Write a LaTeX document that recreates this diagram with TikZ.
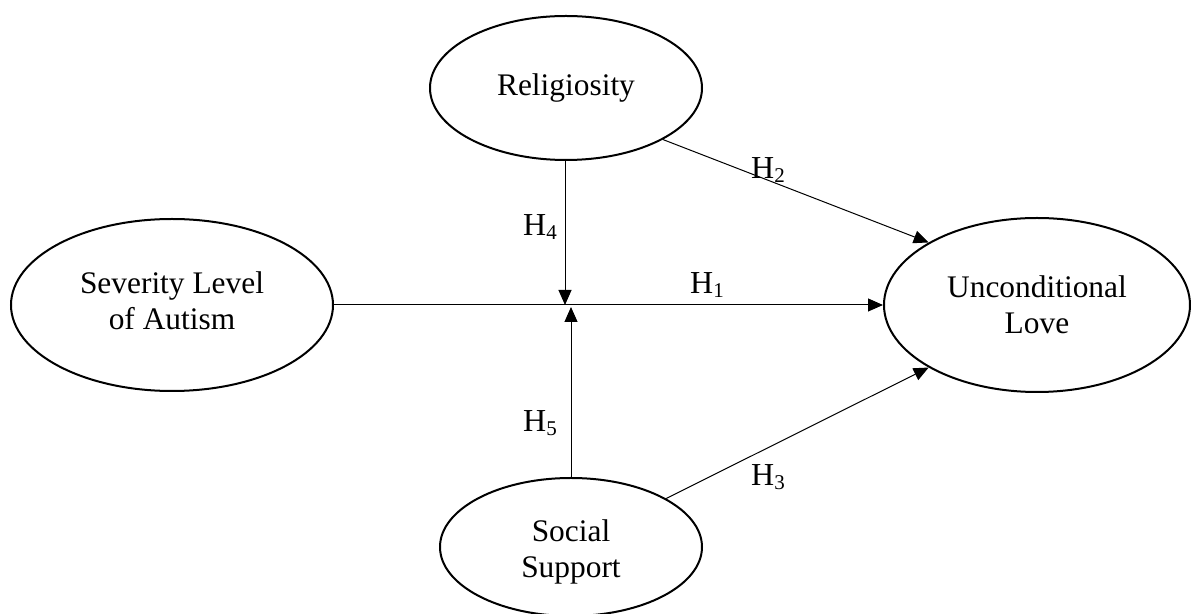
\documentclass[tikz,border=0pt]{standalone}
\usepackage{fontspec}
\setmainfont{Liberation Serif}
\usetikzlibrary{shapes.geometric,arrows.meta}
\newcommand{\Hsub}[1]{H\raisebox{-0.3ex}{\fontsize{10.5}{12}\selectfont #1}}
\begin{document}
\begin{tikzpicture}[x=0.5pt,y=-0.5pt,
  latent/.style={draw, line width=1pt, ellipse, inner sep=0pt, align=center,
    font=\fontsize{15.7}{18.2}\selectfont},
  ltext/.style={inner sep=0pt, align=center, font=\fontsize{15.7}{18.2}\selectfont},
  path/.style={line width=0.5pt, -{Triangle[length=7.5pt,width=6.5pt]}},
  hlabel/.style={font=\fontsize{16}{18}\selectfont, inner sep=0pt}]
\useasboundingbox (0,0) rectangle (1191,614);
\node[latent, minimum width=136pt, minimum height=72pt] (rel) at (566,88) {Religiosity};
\node[latent, minimum width=161pt, minimum height=86pt] (sev) at (172,305) {};
\node[ltext] (sevt) at (172,301) {Severity Level\\of Autism};
\node[latent, minimum width=153pt, minimum height=87pt] (love) at (1037,305) {Unconditional\\Love};
\node[latent, minimum width=131pt, minimum height=69pt] (soc) at (571,547) {};
\node[ltext] (soct) at (571,552) {Social\\Support};
\coordinate (m4) at (565,305);
\coordinate (m5) at (571,307);
\draw[path] (sev.east) -- (love.west);
\draw[path] (rel.south -| m4) -- (m4);
\draw[path] (soc.north) -- (m5);
\draw[path] (rel.-28) -- (love.150);
\draw[path] (soc.27) -- (love.210);
\node[hlabel] (h1) at (707,285) {\Hsub{1}};
\node[hlabel] (h2) at (768,170) {\Hsub{2}};
\node[hlabel] (h3) at (768,477) {\Hsub{3}};
\node[hlabel] (h4) at (540,227) {\Hsub{4}};
\node[hlabel] (h5) at (540,423) {\Hsub{5}};
\end{tikzpicture}
\end{document}
